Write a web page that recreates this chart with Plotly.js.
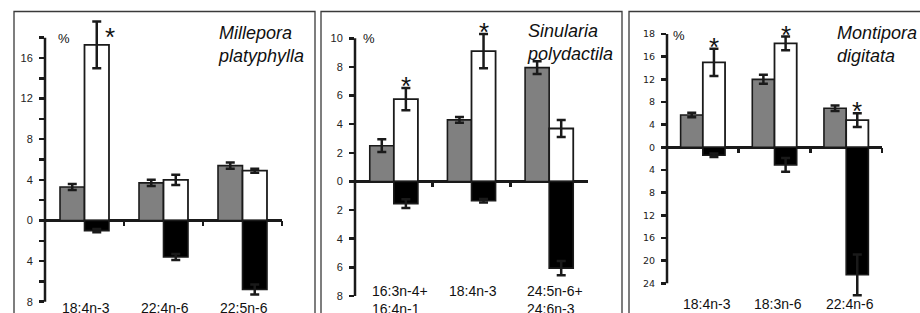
<!DOCTYPE html>
<html>
<head>
<meta charset="utf-8">
<script src="https://cdn.plot.ly/plotly-3.0.1.min.js"></script>
<style>html,body{margin:0;padding:0;background:#fff;}#chart{width:920px;height:313px;}</style>
</head>
<body>
<div id="chart"></div>
<script>
// ---------- DATA ----------
// Panel 1: Millepora platyphylla
const mpCats = ['18:4n-3', '22:4n-6', '22:5n-6'];
const mpGray = [3.3, 3.7, 5.4];
const mpGrayErr = [0.3, 0.3, 0.3];
const mpWhite = [17.3, 4.0, 4.9];
const mpWhiteErr = [2.3, 0.5, 0.2];
const mpBlack = [-1.0, -3.6, -6.8];
const mpBlackErr = [0.15, 0.3, 0.5];
const mpSig = [true, false, false];
const mpTickVals = [-8, -6, -4, -2, 0, 2, 4, 6, 8, 10, 12, 14, 16, 18];
const mpTickText = ['8', '', '4', '', '0', '', '4', '', '8', '', '12', '', '16', ''];

// Panel 2: Sinularia polydactila
const spCats = ['16:3n-4+\n16:4n-1', '18:4n-3', '24:5n-6+\n24:6n-3'];
const spGray = [2.5, 4.3, 7.95];
const spGrayErr = [0.45, 0.2, 0.45];
const spWhite = [5.75, 9.1, 3.7];
const spWhiteErr = [0.78, 1.2, 0.6];
const spBlack = [-1.55, -1.35, -6.05];
const spBlackErr = [0.3, 0.12, 0.5];
const spSig = [true, true, false];
const spTickVals = [-8, -6, -4, -2, 0, 2, 4, 6, 8, 10];
const spTickText = ['8', '6', '4', '2', '0', '2', '4', '6', '8', '10'];

// Panel 3: Montipora digitata
const mdCats = ['18:4n-3', '18:3n-6', '22:4n-6'];
const mdGray = [5.7, 12.0, 6.9];
const mdGrayErr = [0.4, 0.8, 0.5];
const mdWhite = [15.0, 18.35, 4.8];
const mdWhiteErr = [2.4, 1.2, 1.2];
const mdBlack = [-1.4, -3.1, -22.5];
const mdBlackErr = [0.3, 1.2, 3.6];
const mdSig = [true, true, true];
const mdTickVals = [-24, -20, -16, -12, -8, -4, 0, 4, 8, 12, 16, 20];
const mdTickText = ['24', '20', '16', '12', '8', '4', '0', '4', '8', '12', '16', '18'];

const species = [['Millepora', 'platyphylla'], ['Sinularia', 'polydactila'], ['Montipora', 'digitata']];

// ---------- LAYOUT HELPERS ----------
const W = 920, H = 313;
const fx = x => x / W;
const fy = y => 1 - y / H;

const panels = [
  {cats: mpCats, gray: mpGray, grayErr: mpGrayErr, white: mpWhite, whiteErr: mpWhiteErr,
   black: mpBlack, blackErr: mpBlackErr, sig: mpSig, tv: mpTickVals, tt: mpTickText,
   range: [-8, 18], xpx: [45, 282], ypx: [37.7, 301.7], frame: [14, 315],
   tickFont: {family: 'Liberation Sans, Arial, sans-serif', size: 11, color: '#222'},
   labelTop: 297.5, pct: [56, 38], title: [216, 21], starMode: 'side'},
  {cats: spCats, gray: spGray, grayErr: spGrayErr, white: spWhite, whiteErr: spWhiteErr,
   black: spBlack, blackErr: spBlackErr, sig: spSig, tv: spTickVals, tt: spTickText,
   range: [-8, 10], xpx: [355, 588], ypx: [38.3, 296], frame: [321, 622],
   tickFont: {family: 'Liberation Sans, Arial, sans-serif', size: 11, color: '#222'},
   labelTop: 281, pct: [361, 38], title: [525, 19], starMode: 'top'},
  {cats: mdCats, gray: mdGray, grayErr: mdGrayErr, white: mdWhite, whiteErr: mdWhiteErr,
   black: mdBlack, blackErr: mdBlackErr, sig: mdSig, tv: mdTickVals, tt: mdTickText,
   range: [-24, 20], xpx: [667, 882], ypx: [34, 283.3], frame: [629, 935],
   tickFont: {family: 'DejaVu Sans, sans-serif', size: 9.5, color: '#222'},
   labelTop: 294, pct: [671, 35], title: [835, 21], starMode: 'top'}
];

const BW = 0.31;
const traces = [];
const layout = {
  width: W, height: H,
  margin: {l: 0, r: 0, t: 0, b: 0, pad: 0},
  paper_bgcolor: '#ffffff', plot_bgcolor: 'rgba(0,0,0,0)',
  showlegend: false, barmode: 'overlay',
  annotations: [], shapes: []
};

const ink = '#1a1a1a';
const errStyle = arr => ({type: 'data', array: arr, visible: true, color: ink, thickness: 2.5, width: 4.5});

panels.forEach((p, k) => {
  const s = k === 0 ? '' : String(k + 1);
  const xa = 'x' + s, ya = 'y' + s;
  const r0 = p.range[0], r1 = p.range[1];
  const pxPer = (p.ypx[1] - p.ypx[0]) / (r1 - r0);
  // extend the plotting area beyond the drawn axis so error bars are not clipped
  const extTop = Math.min(28, p.ypx[0] - 1);
  const extBot = Math.min(28, H - 1 - p.ypx[1]);
  const dom = [fy(p.ypx[1] + extBot), fy(p.ypx[0] - extTop)];
  const fullRange = [r0 - extBot / pxPer, r1 + extTop / pxPer];
  const toPaper = v => fy(p.ypx[1] - (v - r0) * pxPer);
  const zeroFrac = toPaper(0);

  const base = {type: 'bar', x: p.cats, xaxis: xa, yaxis: ya, width: BW, hoverinfo: 'skip', cliponaxis: false};
  traces.push(Object.assign({}, base, {y: p.gray, offset: -BW,
    marker: {color: '#808080', line: {color: ink, width: 1.6}}, error_y: errStyle(p.grayErr)}));
  traces.push(Object.assign({}, base, {y: p.white, offset: 0,
    marker: {color: '#ffffff', line: {color: ink, width: 1.8}}, error_y: errStyle(p.whiteErr)}));
  traces.push(Object.assign({}, base, {y: p.black, offset: 0,
    marker: {color: '#000000', line: {color: ink, width: 1.6}}, error_y: errStyle(p.blackErr)}));

  layout['xaxis' + s] = {
    type: 'category', categoryorder: 'array', categoryarray: p.cats,
    range: [-0.5, 2.5], domain: [fx(p.xpx[0]), fx(p.xpx[1])],
    anchor: 'free', position: zeroFrac,
    showline: false, showgrid: false, zeroline: false,
    ticks: 'outside', tickson: 'boundaries', ticklen: 5, tickwidth: 2.5, tickcolor: ink,
    showticklabels: false, fixedrange: true
  };
  layout['yaxis' + s] = {
    range: fullRange, domain: dom, anchor: xa,
    showline: false,
    ticks: 'outside', ticklen: 5, tickwidth: 2.5, tickcolor: ink,
    tickmode: 'array', tickvals: p.tv, ticktext: p.tt, tickfont: p.tickFont,
    ticklabelstandoff: 4,
    showgrid: false, zeroline: true, zerolinecolor: ink, zerolinewidth: 2.5,
    fixedrange: true
  };

  // visible y-axis line spanning only the labelled range
  layout.shapes.push({type: 'line', xref: xa + ' domain', yref: ya,
    x0: 0, x1: 0, y0: r0, y1: r1, line: {color: ink, width: 2.5}, layer: 'above'});

  // panel frame
  layout.shapes.push({type: 'rect', xref: 'paper', yref: 'paper',
    x0: fx(p.frame[0]), x1: fx(p.frame[1]), y0: fy(340), y1: fy(11.5),
    line: {color: '#3a3a3a', width: 1.3}, fillcolor: 'rgba(0,0,0,0)', layer: 'below'});

  // category labels (left-aligned at the gray bar edge)
  p.cats.forEach((c, i) => {
    layout.annotations.push({xref: xa, yref: 'paper', x: i - BW, y: fy(p.labelTop),
      xanchor: 'left', yanchor: 'top', align: 'left', showarrow: false,
      text: c.replace('\n', '<br>'),
      font: {family: 'Liberation Sans, Arial, sans-serif', size: 14, color: '#111'}});
  });

  // significance stars
  p.sig.forEach((on, i) => {
    if (!on) return;
    const side = p.starMode === 'side';
    layout.annotations.push({xref: xa, yref: 'paper', x: i + BW / 2,
      y: toPaper(side ? p.white[i] : p.white[i] + p.whiteErr[i]),
      xanchor: 'center', yanchor: 'middle', showarrow: false, text: '*',
      xshift: side ? 13 : 0, yshift: side ? 8 : 2,
      font: {family: 'Liberation Sans, Arial, sans-serif', size: 26, color: '#111'}});
  });

  // percent sign
  layout.annotations.push({xref: 'paper', yref: 'paper', x: fx(p.pct[0]), y: fy(p.pct[1]),
    xanchor: 'left', yanchor: 'middle', showarrow: false, text: '%',
    font: {family: 'Liberation Sans, Arial, sans-serif', size: 13, color: '#111'}});

  // species title
  layout.annotations.push({xref: 'paper', yref: 'paper', x: fx(p.title[0]), y: fy(p.title[1]),
    xanchor: 'left', yanchor: 'top', align: 'left', showarrow: false,
    text: '<i>' + species[k][0] + '</i><br><i>' + species[k][1] + '</i>',
    font: {family: 'Liberation Sans, Arial, sans-serif', size: 18, color: '#111'}});
});

Plotly.newPlot('chart', traces, layout, {displayModeBar: false, staticPlot: true});
</script>
</body>
</html>
